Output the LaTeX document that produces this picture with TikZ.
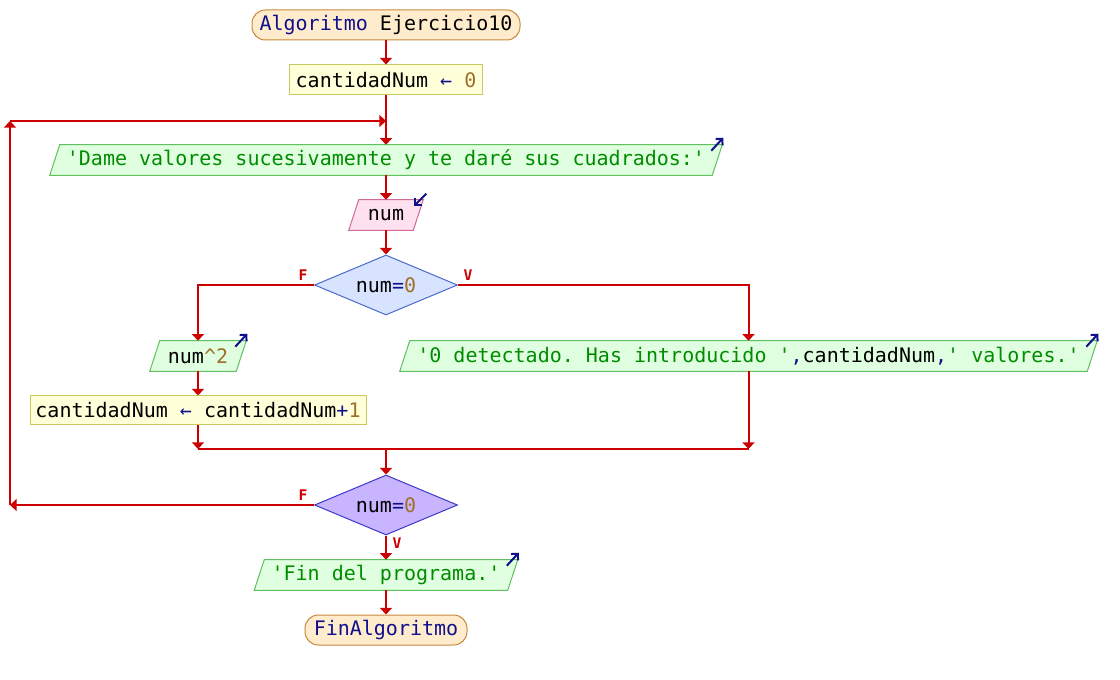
\documentclass[tikz,border=0pt]{standalone}
\usepackage{fontspec}
\setmonofont{DejaVu Sans Mono}
\usetikzlibrary{arrows.meta,shapes.geometric,backgrounds}

\definecolor{flowred}{RGB}{204,0,0}
\definecolor{kw}{RGB}{16,16,140}
\definecolor{numc}{RGB}{160,110,40}
\definecolor{strc}{RGB}{0,140,0}
\definecolor{termfill}{RGB}{255,236,204}
\definecolor{termdraw}{RGB}{200,136,60}
\definecolor{asgfill}{RGB}{255,255,218}
\definecolor{asgdraw}{RGB}{200,200,96}
\definecolor{outfill}{RGB}{224,255,224}
\definecolor{outdraw}{RGB}{96,192,96}
\definecolor{infill}{RGB}{255,224,238}
\definecolor{indraw}{RGB}{208,106,154}
\definecolor{c1fill}{RGB}{216,228,255}
\definecolor{c1draw}{RGB}{74,106,205}
\definecolor{c2fill}{RGB}{200,180,255}
\definecolor{c2draw}{RGB}{58,58,205}

\tikzset{
  txt/.style={font=\ttfamily\fontsize{15pt}{18pt}\selectfont, inner sep=0pt},
  term/.style={txt, rectangle, rounded corners=10pt, draw=termdraw, fill=termfill,
    line width=0.75pt, minimum height=22.5pt},
  assign/.style={txt, rectangle, draw=asgdraw, fill=asgfill, line width=0.75pt,
    minimum height=22.5pt},
  iobox/.style={txt, rectangle, minimum height=22.5pt},
  cond/.style={txt, diamond, aspect=2.4, line width=0.75pt, minimum width=107.25pt,
    minimum height=45pt},
  flow/.style={draw=flowred, line width=1.5pt, -{Triangle[length=5pt,width=9pt]}},
  plain/.style={draw=flowred, line width=1.5pt},
  icon/.style={draw=kw, line width=1.5pt, -{Straight Barb[length=3.5pt,width=7pt]}},
  lbl/.style={font=\ttfamily\bfseries\fontsize{11pt}{13pt}\selectfont, text=flowred, inner sep=0pt}
}

% parallelogram outline behind an input/output node
\newcommand{\ioshape}[3]{%
  \filldraw[fill=#2, draw=#3, line width=0.75pt]
    ([xshift=-3.75pt]#1.south west) -- ([xshift=3.75pt]#1.north west) --
    ([xshift=3.75pt]#1.north east) -- ([xshift=-3.75pt]#1.south east) -- cycle;}

\begin{document}
\begin{tikzpicture}[x=0.75pt, y=-0.75pt]
\useasboundingbox (0,0) rectangle (1120,680);

% main column
\node[term, minimum width=201pt] (start) at (386,25)
  {{\color{kw}Algoritmo} Ejercicio10};
\node[assign, minimum width=144.75pt] (init) at (386,80)
  {cantidadNum {\color{kw}←} {\color{numc}0}};
\node[iobox, minimum width=496.5pt] (ask) at (386,160)
  {\color{strc}'Dame valores sucesivamente y te daré sus cuadrados:'};
\node[iobox, minimum width=48pt] (readnum) at (386,215) {num};
\node[cond, draw=c1draw, fill=c1fill] (test1) at (386,285)
  {num{\color{kw}=}{\color{numc}0}};

% false branch
\node[iobox, minimum width=64.5pt] (square) at (198,356)
  {num{\color{numc}\textasciicircum2}};
\node[assign, minimum width=252pt, minimum height=21.75pt] (count) at (198,410.5)
  {cantidadNum {\color{kw}←} cantidadNum{\color{kw}+}{\color{numc}1}};

% true branch
\node[iobox, minimum width=515.25pt] (report) at (748.5,356)
  {{\color{strc}'0 detectado. Has introducido '}{\color{kw},}cantidadNum{\color{kw},}{\color{strc}' valores.'}};

% loop test and end
\node[cond, draw=c2draw, fill=c2fill] (test2) at (386,505)
  {num{\color{kw}=}{\color{numc}0}};
\node[iobox, minimum width=189.75pt] (bye) at (386,575)
  {\color{strc}'Fin del programa.'};
\node[term, minimum width=121.5pt] (finish) at (386,630)
  {\color{kw}FinAlgoritmo};

% parallelogram outlines
\begin{scope}[on background layer]
  \ioshape{ask}{outfill}{outdraw}
  \ioshape{readnum}{infill}{indraw}
  \ioshape{square}{outfill}{outdraw}
  \ioshape{report}{outfill}{outdraw}
  \ioshape{bye}{outfill}{outdraw}
\end{scope}

% output / input marks
\draw[icon] ([shift={(-6,6)}]ask.north east) -- ([shift={(6,-7)}]ask.north east);
\draw[icon] ([shift={(-6,6)}]square.north east) -- ([shift={(6,-7)}]square.north east);
\draw[icon] ([shift={(-6,6)}]report.north east) -- ([shift={(6,-7)}]report.north east);
\draw[icon] ([shift={(-6,6)}]bye.north east) -- ([shift={(6,-7)}]bye.north east);
\draw[icon] ([shift={(8,-6)}]readnum.north east) -- ([shift={(-4,6)}]readnum.north east);

% branch labels
\node[lbl] (f1) at (303,275) {F};
\node[lbl] (v1) at (468,275) {V};
\node[lbl] (f2) at (303,495) {F};
\node[lbl] (v2) at (397,543) {V};

% junction points
\coordinate (merge) at (386,449);
\coordinate (loopbottom) at (10,505);
\coordinate (looptop) at (10,121);
\coordinate (loopin) at (386,121);

% connectors
\draw[flow] (start.south) -- (init.north);
\draw[flow] (init.south) -- (ask.north);
\draw[flow] (ask.south) -- (readnum.north);
\draw[flow] (readnum.south) -- (test1.north);
\draw[flow] (test1.west) -| (square.north);
\draw[flow] (test1.east) -| (report.north);
\draw[flow] (square.south) -- (count.north);
\draw[flow] (count.south) -- (count.south |- merge);
\draw[flow] (report.south) -- (report.south |- merge);
\draw[plain] (count.south |- merge) -- (report.south |- merge);
\draw[flow] (merge) -- (test2.north);
\draw[flow] (test2.west) -- (loopbottom);
\draw[flow] (loopbottom) -- (looptop);
\draw[flow] (looptop) -- (loopin);
\draw[flow] (test2.south) -- (bye.north);
\draw[flow] (bye.south) -- (finish.north);
\end{tikzpicture}
\end{document}
